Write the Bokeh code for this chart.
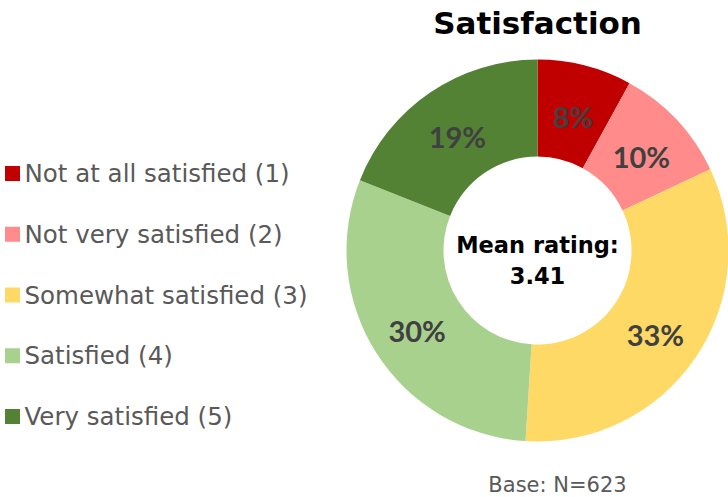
import math
from bokeh.plotting import figure
from bokeh.models import ColumnDataSource
from bokeh.core.properties import value
from bokeh.embed import file_html
from bokeh.resources import INLINE

# ---- data ----
categories = ["Not at all satisfied (1)", "Not very satisfied (2)", "Somewhat satisfied (3)",
              "Satisfied (4)", "Very satisfied (5)"]
shares = [8, 10, 33, 30, 19]
colors = ["#C00000", "#FF8B8B", "#FFD966", "#A9D18E", "#548235"]
title_text = "Satisfaction"
center_lines = ["Mean rating:", "3.41"]
base_text = "Base: N=623"

W, H = 728, 497


def px(x):
    return x


def py(y):
    return H - y


p = figure(width=W, height=H, x_range=(0, W), y_range=(0, H), output_backend="svg",
           toolbar_location=None, min_border=0, outline_line_color=None,
           background_fill_color="white", border_fill_color="white")
p.xaxis.visible = False
p.yaxis.visible = False
p.xgrid.visible = False
p.ygrid.visible = False

# donut
cx, cy = px(537), py(250)
r_out, r_in = 191, 94
total = float(sum(shares))
starts, ends, mids = [], [], []
cum = 0.0
for s in shares:
    a0 = math.pi / 2 - 2 * math.pi * cum / total
    cum += s
    a1 = math.pi / 2 - 2 * math.pi * cum / total
    starts.append(a0)
    ends.append(a1)
    mids.append((a0 + a1) / 2)

src = ColumnDataSource(dict(start=starts, end=ends, color=colors))
p.annular_wedge(x=cx, y=cy, inner_radius=r_in, outer_radius=r_out,
                start_angle="start", end_angle="end", direction="clock",
                fill_color="color", line_color=None, source=src)

r_mid = (r_in + r_out) / 2
lab = ColumnDataSource(dict(
    x=[cx + r_mid * math.cos(m) for m in mids],
    y=[cy + r_mid * math.sin(m) - 4 for m in mids],
    t=[f"{s}%" for s in shares]))
p.text(x="x", y="y", text="t", source=lab, text_align="center", text_baseline="middle",
       text_font=value("Lato"), text_font_style="bold", text_font_size="29px",
       text_color="#404040")

# center text
p.text(x=[cx, cx], y=[py(244), py(275)], text=center_lines, text_align="center",
       text_baseline="middle", text_font=value("DejaVu Sans"), text_font_style="bold",
       text_font_size="22.5px", text_color="#000000")

# title
p.text(x=[px(537)], y=[py(22)], text=[title_text], text_align="center",
       text_baseline="middle", text_font=value("DejaVu Sans"), text_font_style="bold",
       text_font_size="31px", text_color="#000000")

# legend
leg_y = [py(173 + i * 60.75) for i in range(len(categories))]
p.rect(x=[px(12)] * len(categories), y=leg_y, width=15, height=15,
       fill_color=colors, line_color=None)
p.text(x=[px(24)] * len(categories), y=leg_y, text=categories, text_align="left",
       text_baseline="middle", text_font=value("DejaVu Sans"), text_font_size="24.5px",
       text_color="#595959")

# base
p.text(x=[px(557)], y=[py(484)], text=[base_text], text_align="center",
       text_baseline="middle", text_font=value("DejaVu Sans"), text_font_size="21px",
       text_color="#595959")

open("out.html", "w").write(file_html(p, INLINE))
